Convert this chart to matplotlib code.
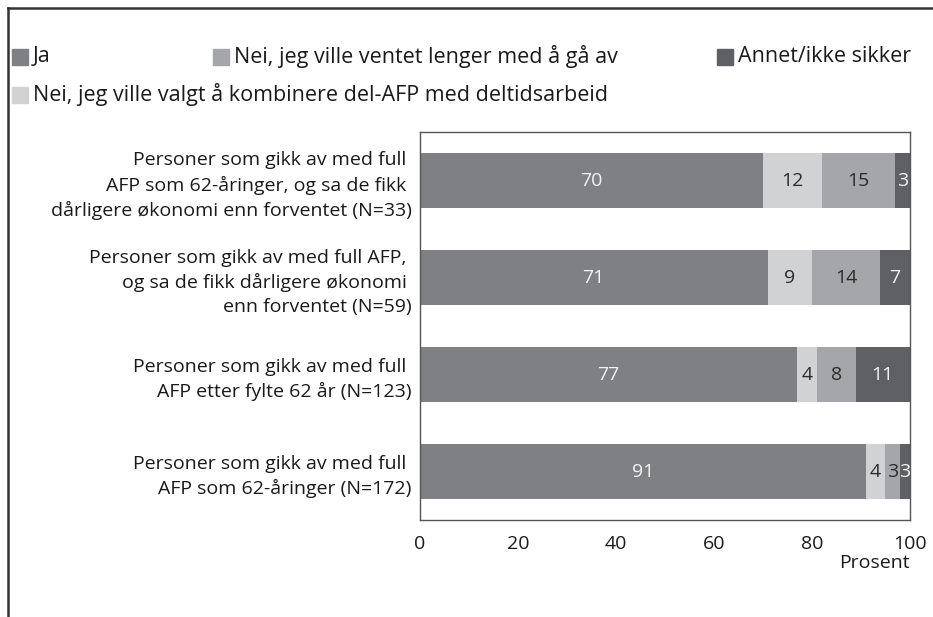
import matplotlib.pyplot as plt
import numpy as np
from matplotlib.lines import Line2D
from matplotlib.patches import Rectangle

plt.rcParams['font.family'] = ['Open Sans', 'DejaVu Sans']

categories = [
    "Personer som gikk av med full \nAFP som 62-åringer, og sa de fikk \ndårligere økonomi enn forventet (N=33)",
    "Personer som gikk av med full AFP, \nog sa de fikk dårligere økonomi \nenn forventet (N=59)",
    "Personer som gikk av med full \nAFP etter fylte 62 år (N=123)",
    "Personer som gikk av med full \nAFP som 62-åringer (N=172)",
]
ja = [70, 71, 77, 91]
nei_kombinere = [12, 9, 4, 4]
nei_ventet = [15, 14, 8, 3]
annet = [3, 7, 11, 3]

series = [
    ("Ja", ja, "#7f8083", "#f2f2f2"),
    ("Nei, jeg ville valgt å kombinere del-AFP med deltidsarbeid", nei_kombinere, "#d1d2d4", "#2b2b2b"),
    ("Nei, jeg ville ventet lenger med å gå av", nei_ventet, "#a5a6a9", "#2b2b2b"),
    ("Annet/ikke sikker", annet, "#5f6063", "#f2f2f2"),
]

fig = plt.figure(figsize=(9.33, 6.17), dpi=100)
ax = fig.add_axes([0.450, 0.157, 0.525, 0.629])

y = np.arange(len(categories))
left = np.zeros(len(categories))
for name, vals, color, tcolor in series:
    vals = np.array(vals, dtype=float)
    ax.barh(y, vals, left=left, height=0.57, color=color, label=name)
    for yi, l, v in zip(y, left, vals):
        xc = min(l + v / 2, (l + 100) / 2)
        ax.text(xc, yi, f"{int(v)}", ha="center", va="center",
                fontsize=14, color=tcolor)
    left += vals

ax.set_xlim(0, 100)
ax.set_ylim(len(categories) - 0.5, -0.5)
ax.set_yticks(y)
ax.set_yticklabels(categories, fontsize=14, linespacing=1.42, color="#1a1a1a")
ax.set_xticks([0, 20, 40, 60, 80, 100])
ax.tick_params(axis="both", length=0, labelsize=14, colors="#1a1a1a")
ax.tick_params(axis="y", pad=6)
ax.tick_params(axis="x", pad=11)
for s in ax.spines.values():
    s.set_color("#555555")
    s.set_linewidth(1.0)
ax.text(1.0, -0.111, "Prosent", transform=ax.transAxes, ha="right", va="center",
        fontsize=14, color="#1a1a1a")

# legend drawn by hand: three items on the first row, one on the second
legend_items = [
    (series[0], 12, 57),
    (series[2], 213, 57),
    (series[3], 717, 57),
    (series[1], 12, 95),
]
W, H = 933, 617
for (name, _, color, _), px, py in legend_items:
    fig.patches.append(Rectangle((px / W, 1 - (py + 8) / H), 16 / W, 16 / H,
                                 transform=fig.transFigure, color=color))
    fig.text((px + 21) / W, 1 - py / H, name, ha="left", va="center",
             fontsize=15.5, color="#1a1a1a")

# outer frame: top and left edges
fig.add_artist(Line2D([8 / W, 1], [1 - 8 / H, 1 - 8 / H], color="#333333", lw=1.8))
fig.add_artist(Line2D([8 / W, 8 / W], [0, 1 - 8 / H], color="#333333", lw=1.8))

fig.savefig("out.png", dpi=100)
